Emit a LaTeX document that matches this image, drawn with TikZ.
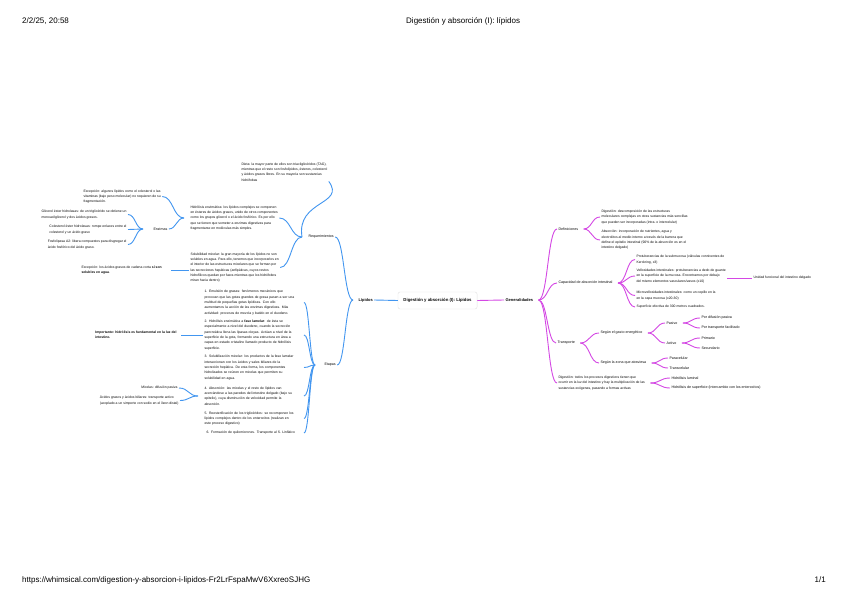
\documentclass[tikz,border=0pt]{standalone}
\usepackage{fontspec}
\setmainfont{Liberation Sans}
\usetikzlibrary{calc}
\definecolor{blueC}{RGB}{66,150,240}
\definecolor{magC}{RGB}{212,72,228}
\definecolor{txtC}{RGB}{10,10,10}
\newcommand\linkR[3]{\draw[mg] (#1.east) ++(#3,0) coordinate (tmpj) .. controls ($(tmpj)!0.5!(tmpj -| #2.west)$) and ($(#2.west)!0.5!(tmpj |- #2.west)$) .. (#2.west);}
\newcommand\linkL[3]{\draw[bl] (#1.west) ++(-#3,0) coordinate (tmpj) .. controls ($(tmpj)!0.5!(tmpj -| #2.east)$) and ($(#2.east)!0.5!(tmpj |- #2.east)$) .. (#2.east);}
\begin{document}
\begin{tikzpicture}[x=1pt,y=-1pt,
  txt/.style={font=\fontsize{3.4}{5.3}\selectfont, inner sep=0pt, outer xsep=1.5pt, align=left, text=txtC},
  lbl/.style={font=\fontsize{3.6}{4.5}\selectfont, inner sep=0pt, outer xsep=1.5pt, text=txtC},
  hub/.style={font=\bfseries\fontsize{4}{5}\selectfont, inner sep=0pt, outer xsep=1.5pt, text=txtC},
  bl/.style={draw=blueC, line width=0.9pt},
  mg/.style={draw=magC, line width=0.9pt},
  hdr/.style={font=\fontsize{8}{9}\selectfont, inner sep=0pt, text=black}]
\useasboundingbox[fill=white] (0,0) rectangle (848,599);

% header / footer
\node[hdr, anchor=west] (date) at (22,21) {2/2/25, 20:58};
\node[hdr, anchor=west] (title) at (406,21) {Digestión y absorción (I): lípidos};
\node[hdr, anchor=west] (url) at (22,580) {https://whimsical.com/digestion-y-absorcion-i-lipidos-Fr2LrFspaMwV6XxreoSJHG};
\node[hdr, anchor=east] (page) at (826,580) {1/1};

% root
\node[draw=black!12, line width=0.4pt, rounded corners=2pt, fill=white, font=\bfseries\fontsize{4.3}{5}\selectfont, inner xsep=5.5pt, inner ysep=0pt, minimum height=17pt, text=txtC] (root) at (437.5,300.5) {Digestión y absorción (I): Lípidos};
\node[hub, anchor=west] (lip) at (357,300) {Lípidos};
\node[hub, anchor=west] (gen) at (504,300) {Generalidades};
\draw[bl] (root.west) -- (lip.east);
\draw[mg] (root.east) -- (gen.west);

% ---------------- left branch ----------------
\node[lbl, anchor=west] (req) at (307,237) {Requerimientos};
\node[lbl, anchor=west] (eta) at (323,365) {Etapas};
\linkL{lip}{req}{4}
\linkL{lip}{eta}{4}

\node[txt, anchor=west] (dieta) at (240,172) {Dieta: la mayor parte de ellos son triacilglicéridos (TAG),\\ mientras que el resto son fosfolípidos, ésteres, colesterol\\ y ácidos grasos libres. En su mayoría son sustancias\\ hidrófobas};
\node[txt, anchor=west] (hidro) at (189,218) {Hidrólisis enzimática: los lípidos complejos se componen\\ en ésteres de ácidos grasos, unido de otros componentes\\ como los grupos glicerol o el ácido fosfórico. Es por ello\\ que se tienen que someter a enzimas digestivas para\\ fragmentarse en moléculas más simples.};
\node[txt, anchor=west] (solu) at (189,267.5) {Solubilidad micelar: la gran mayoría de los lípidos no son\\ solubles en agua. Para ello, tenemos que incorporarlos en\\ el interior de las estructuras micelares que se forman por\\ las secreciones hepáticas (anfipáticas, cuyos restos\\ hidrofílicos quedan por fuera mientras que los hidrófobos\\ miran hacia dentro)};
\linkL{req}{hidro}{5}
\linkL{req}{solu}{5}
\draw[bl] (req.west) ++(-5,0) .. controls (296,200) and (346,205) .. (dieta.south east);

\node[txt, anchor=west] (exc1) at (82,196.5) {Excepción: algunos lípidos como el colesterol o las\\ vitaminas (bajo peso molecular) no requieren de su\\ fragmentación.};
\node[lbl, anchor=west] (enz) at (152,229) {Enzimas};
\linkL{hidro}{exc1}{5}
\linkL{hidro}{enz}{5}

\node[txt, anchor=east] (glic) at (128,214.5) {Glicerol éster hidrolasas: de un triglicérido se obtiene un\\ monoacilglicerol y dos ácidos grasos.};
\node[txt, anchor=east] (cole) at (128,229.5) {Colesterol éster hidrolasas: rompe enlaces entre el\\ colesterol y un ácido graso};
\node[txt, anchor=east] (fosf) at (128,244.5) {Fosfolipasa A2: libera compuestos para disgregar el\\ ácido fosfórico del ácido graso.};
\linkL{enz}{glic}{9}
\linkL{enz}{cole}{9}
\linkL{enz}{fosf}{9}

\node[txt, anchor=west] (exc2) at (80,270) {Excepción: los ácidos grasos de cadena corta \textbf{sí son}\\ \textbf{solubles en agua}.};
\draw[bl] (solu.west |- exc2.east) -- ($(exc2.east)+(8,0)$);

\node[txt, anchor=west, text width=98pt] (e1) at (203,302.5) {1. Emulsión de grasas: fenómenos mecánicos que\\ provocan que las gotas grandes de grasa pasen a ser una\\ multitud de pequeñas gotas lipídicas. Con ello\\ aumentamos la acción de las enzimas digestivas. Más\\ actividad: procesos de mezcla y batido en el duodeno.};
\node[txt, anchor=west, text width=98pt] (e2) at (203,335) {2. Hidrólisis enzimática a \textbf{fase lamelar}: de ésta se\\ especialmente a nivel del duodeno, cuando la secreción\\ pancreática llena las lipasas oleyas. Actúan a nivel de la\\ superficie de la gota, formando una estructura en área a\\ capas en estado cristalino llamado producto de hidrólisis\\ superficie.};
\node[txt, anchor=west, text width=98pt] (e3) at (203,367.5) {3. Solubilización micelar: los productos de la fase lamelar\\ interaccionan con los ácidos y sales biliares de la\\ secreción hepática. De esta forma, los componentes\\ hidrolizados se reúnen en micelas que permiten su\\ solubilidad en agua.};
\node[txt, anchor=west, text width=98pt] (e4) at (203,396) {4. Absorción: las micelas y el resto de lípidos van\\ acercándose a las paredes del intestino delgado (bajo su\\ epitelio), cuya disminución de velocidad permite la\\ absorción.};
\node[txt, anchor=west, text width=98pt] (e5) at (203,418.5) {5. Reesterificación de los triglicéridos: se recomponen los\\ lípidos complejos dentro de los enterocitos (realizan en\\ este proceso digestivo)};
\node[txt, anchor=west, text width=96pt] (e6) at (205,433) {6. Formación de quilomicrones. Transporte al S. Linfático};
\foreach \e in {e1,e2,e3,e4,e5,e6} {\linkL{eta}{\e}{8}}

\node[txt, anchor=east, font=\bfseries\fontsize{3.4}{5.3}\selectfont] (imp) at (178,335) {Importante: hidrólisis es fundamental en la luz del\\ intestino.};
\draw[bl] ($(imp.east)+(3,0)$) -- (e2.west);

\node[txt, anchor=east] (mic) at (179,388) {Micelas: difusión pasiva};
\node[txt, anchor=east] (acid) at (180,400.5) {Ácidos grasos y ácidos biliares: transporte activo\\ (acoplado a un simporte con sodio en el íleon distal)};
\linkL{e4}{mic}{5}
\linkL{e4}{acid}{5}

% ---------------- right branch ----------------
\node[lbl, anchor=west] (def) at (557,229) {Definiciones};
\node[lbl, anchor=west] (cap) at (557,283) {Capacidad de absorción intestinal};
\node[lbl, anchor=west] (tra) at (556,343) {Transporte};
\node[txt, anchor=west] (dig) at (557,383) {Digestión: todos los procesos digestivos tienen que\\ ocurrir en la luz del intestino y hay la multiplicación de las\\ sustancias exógenas, pasando a formas activas};
\foreach \c in {def,cap,tra,dig} {\linkR{gen}{\c}{4}}

\node[txt, anchor=west] (ddig) at (600,217) {Digestión: descomposición de las estructuras\\ moleculares complejas en otras sustancias más sencillas\\ que pueden ser incorporadas (intra- o intercelular)};
\node[txt, anchor=west] (dabs) at (600,240) {Absorción: incorporación de nutrientes, agua y\\ electrolitos al medio interno a través de la barrera que\\ define el epitelio intestinal (90\% de la absorción es en el\\ intestino delgado)};
\linkR{def}{ddig}{4}
\linkR{def}{dabs}{4}

\node[txt, anchor=west] (pli) at (635,259.5) {Protuberancias de la submucosa (válvulas conniventes de\\ Kerckring, x3)};
\node[txt, anchor=west] (vel) at (635,276) {Vellosidades intestinales: protuberancias a dedo de guante\\ en la superficie de la mucosa. Encontramos por debajo\\ del mismo elementos vasculares/vasos (x10)};
\node[txt, anchor=west] (mvel) at (635,295.5) {Microvellosidades intestinales: como un cepillo en la\\ en la capa mucosa (x20-30)};
\node[txt, anchor=west] (sup) at (635,307) {Superficie efectiva de 300 metros cuadrados.};
\foreach \c in {pli,vel,mvel,sup} {\linkR{cap}{\c}{4}}
\node[txt, anchor=west] (uni) at (752,278) {Unidad funcional del intestino delgado};
\draw[mg] (vel.east |- uni.west) -- (uni.west);

\node[lbl, anchor=west] (sge) at (599,333) {Según el gasto energético};
\node[lbl, anchor=west] (szo) at (599,363) {Según la zona que atraviesa};
\linkR{tra}{sge}{4}
\linkR{tra}{szo}{4}
\node[lbl, anchor=west] (pas) at (665,323) {Pasivo};
\node[lbl, anchor=west] (act) at (665,343) {Activo};
\linkR{sge}{pas}{4}
\linkR{sge}{act}{4}
\node[lbl, anchor=west] (pdif) at (700,318) {Por difusión pasiva};
\node[lbl, anchor=west] (ptra) at (700,328) {Por transporte facilitado};
\linkR{pas}{pdif}{4}
\linkR{pas}{ptra}{4}
\node[lbl, anchor=west] (pri) at (700,338) {Primario};
\node[lbl, anchor=west] (sec) at (700,348) {Secundario};
\linkR{act}{pri}{4}
\linkR{act}{sec}{4}
\node[lbl, anchor=west] (para) at (668,358) {Paracelular};
\node[lbl, anchor=west] (trans) at (668,368) {Transcelular};
\linkR{szo}{para}{4}
\linkR{szo}{trans}{4}
\node[lbl, anchor=west] (hlum) at (670,378) {Hidrólisis luminal};
\node[lbl, anchor=west] (hsup) at (670,388) {Hidrólisis de superficie (intercambio con los enterocitos)};
\linkR{dig}{hlum}{4}
\linkR{dig}{hsup}{4}
\end{tikzpicture}
\end{document}
